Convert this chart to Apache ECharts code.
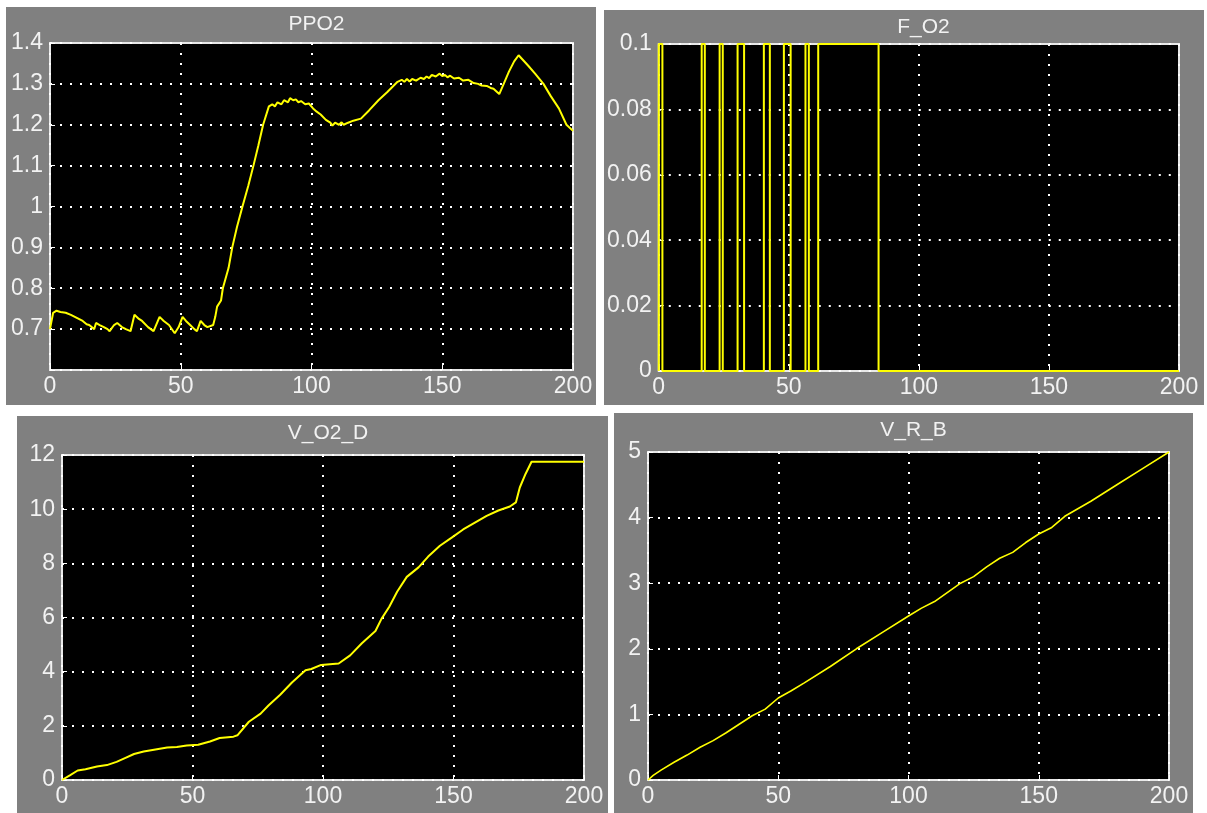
<!DOCTYPE html>
<html>
<head>
<meta charset="utf-8">
<script src="https://cdn.jsdelivr.net/npm/echarts@6/dist/echarts.min.js"></script>
<style>
  html, body { margin: 0; padding: 0; background: #ffffff; }
  body { width: 1207px; height: 813px; position: relative; overflow: hidden; }
  .panel { position: absolute; background: #808080; }
</style>
</head>
<body>
<div id="p1" class="panel" style="left:6px;top:7px;width:590px;height:398px;"></div>
<div id="p2" class="panel" style="left:604px;top:10px;width:600px;height:395px;"></div>
<div id="p3" class="panel" style="left:17px;top:416px;width:591px;height:397px;"></div>
<div id="p4" class="panel" style="left:614px;top:413px;width:579px;height:400px;"></div>
<script>
// ---------- DATA ----------
const titles = ['PPO2', 'F_O2', 'V_O2_D', 'V_R_B'];
const xTicks = [0, 50, 100, 150, 200];

// PPO2
const ppo2T = [0, 1.2, 2.5, 4, 6, 8, 9.5, 11, 12.5, 14, 15, 16.9, 17.6, 19, 20.6, 22, 22.8, 24.5, 25.7, 27.5, 29, 30.8, 32.3, 34, 35.2, 37.5, 39.6, 41.9, 43.5, 45.5, 47.7, 49.2, 50.7, 52, 53.6, 55.2, 56.2, 57.6, 59, 60.2, 62.4, 63.2, 63.9, 65.4, 66.1, 68.3, 69.7, 71.5, 73.6, 75.8, 77.8, 79.7, 81.5, 83.7, 85, 86, 87, 88.5, 89.5, 91, 91.8, 93, 94, 95, 96, 97.6, 99, 100.6, 102, 103.5, 105.5, 107.2, 108, 109, 110.5, 111.5, 112.3, 114, 116, 118.9, 122, 125.6, 129, 132.9, 134.5, 135.5, 136.5, 137.5, 138.5, 140, 141.7, 143, 144, 145, 146, 147.5, 149, 150, 151, 152, 153, 154.5, 156.4, 158, 160, 162, 163.7, 165, 167, 168.5, 169.6, 171.8, 173.5, 175.5, 177.5, 179.2, 182.8, 185.5, 188.7, 191.5, 194.6, 197.5, 200];
const ppo2V = [0.70, 0.74, 0.745, 0.742, 0.74, 0.735, 0.73, 0.725, 0.72, 0.712, 0.71, 0.70, 0.715, 0.71, 0.705, 0.70, 0.695, 0.71, 0.715, 0.705, 0.70, 0.695, 0.735, 0.725, 0.72, 0.705, 0.695, 0.73, 0.72, 0.71, 0.69, 0.705, 0.73, 0.72, 0.71, 0.70, 0.695, 0.72, 0.71, 0.705, 0.71, 0.73, 0.755, 0.77, 0.80, 0.85, 0.90, 0.95, 1.00, 1.05, 1.10, 1.15, 1.20, 1.245, 1.25, 1.245, 1.255, 1.25, 1.26, 1.255, 1.265, 1.26, 1.262, 1.255, 1.258, 1.25, 1.252, 1.24, 1.232, 1.225, 1.212, 1.205, 1.198, 1.205, 1.2, 1.206, 1.2, 1.205, 1.21, 1.215, 1.235, 1.26, 1.28, 1.305, 1.31, 1.305, 1.312, 1.306, 1.312, 1.308, 1.315, 1.312, 1.318, 1.314, 1.322, 1.318, 1.325, 1.319, 1.322, 1.316, 1.32, 1.313, 1.315, 1.308, 1.31, 1.302, 1.30, 1.296, 1.295, 1.29, 1.288, 1.275, 1.30, 1.33, 1.355, 1.37, 1.345, 1.325, 1.30, 1.27, 1.24, 1.20, 1.185];

// F_O2 pulses (value high = 0.1 between start and end)
const fo2Start = [0, 16.5, 23.4, 30.3, 40.4, 48.1, 56.4, 61.3];
const fo2End   = [1.4, 17.7, 24.6, 32.8, 42.7, 50.7, 57.7, 84.5];
const fo2High = 0.1;

// V_O2_D
const vo2dT = [0, 3, 6, 9, 13.4, 17.2, 20.9, 23.9, 27.6, 31.3, 35.8, 40.3, 44, 47.8, 52.2, 56.7, 60.4, 65.7, 67.2, 71.6, 76.1, 79.1, 83.6, 88.1, 93.3, 95.5, 99.3, 106, 110.4, 114.9, 120.1, 122.4, 125.4, 128.4, 132.1, 136.6, 140.3, 144.8, 149.3, 153.7, 158.2, 162.7, 167.2, 171.6, 173.9, 175.4, 177.6, 179.9, 200];
const vo2dV = [0, 0.17, 0.35, 0.4, 0.5, 0.55, 0.67, 0.8, 0.96, 1.05, 1.13, 1.2, 1.22, 1.27, 1.3, 1.42, 1.55, 1.6, 1.65, 2.15, 2.45, 2.75, 3.15, 3.6, 4.05, 4.1, 4.25, 4.3, 4.6, 5.05, 5.5, 5.95, 6.4, 6.95, 7.5, 7.85, 8.25, 8.65, 8.95, 9.25, 9.5, 9.75, 9.95, 10.1, 10.25, 10.8, 11.3, 11.75, 11.75];

// V_R_B
const vrbT = [0, 2, 5, 10, 15, 20, 25, 30, 35, 40, 45, 50, 55, 60, 70, 80, 90, 100, 105, 110, 120, 125, 130, 135, 140, 145, 150, 155, 160, 170, 180, 190, 200];
const vrbV = [0, 0.07, 0.15, 0.27, 0.38, 0.5, 0.6, 0.72, 0.85, 0.98, 1.08, 1.25, 1.36, 1.48, 1.73, 2.0, 2.25, 2.5, 2.62, 2.72, 3.0, 3.1, 3.25, 3.38, 3.47, 3.62, 3.75, 3.85, 4.02, 4.25, 4.5, 4.75, 5.0];

// y-axis settings
const yMin = [0.6, 0, 0, 0];
const yMax = [1.4, 0.1, 12, 5];
const yStep = [0.1, 0.02, 2, 1];

// ---------- BUILD ----------
function pairs(t, v) { return t.map((x, i) => [x, v[i]]); }
function fo2Data() {
  const d = [];
  for (let i = 0; i < fo2Start.length; i++) {
    d.push([fo2Start[i], 0]);
    d.push([fo2Start[i], fo2High]);
    d.push([fo2End[i], fo2High]);
    d.push([fo2End[i], 0]);
  }
  d.push([200, 0]);
  return d;
}
const seriesData = [pairs(ppo2T, ppo2V), fo2Data(), pairs(vo2dT, vo2dV), pairs(vrbT, vrbV)];

const grids = [
  {left: 44, top: 36, width: 523, height: 327},
  {left: 54, top: 34, width: 521, height: 327},
  {left: 45, top: 39, width: 522, height: 325},
  {left: 34, top: 39, width: 521, height: 328}
];
const lineWidths = [2, 2, 2, 1.6];

const FONT = 'Liberation Sans, Arial, sans-serif';
const TXT = '#f2f2f2';
const dotted = {color: '#ffffff', width: 2, type: [2, 8]};

function fmt(i) {
  return function (v) {
    if (i === 0 && v < 0.65) return '';
    const r = Math.round(v * 1000) / 1000;
    return String(r);
  };
}

['p1', 'p2', 'p3', 'p4'].forEach((id, i) => {
  const chart = echarts.init(document.getElementById(id), null, {renderer: 'canvas'});
  const g = grids[i];
  chart.setOption({
    animation: false,
    backgroundColor: '#808080',
    title: {
      text: titles[i],
      left: g.left + g.width / 2,
      textAlign: 'center',
      top: 2,
      textStyle: {color: TXT, fontFamily: FONT, fontSize: 21, fontWeight: 'normal'}
    },
    grid: {
      left: g.left, top: g.top, width: g.width, height: g.height,
      show: true, backgroundColor: '#000000', borderColor: '#e8e8e8', borderWidth: 2
    },
    xAxis: {
      type: 'value', min: 0, max: 200, interval: 50,
      axisLine: {show: false},
      axisTick: {show: true, inside: true, length: 5, lineStyle: {color: '#ffffff', width: 1}},
      axisLabel: {color: TXT, fontFamily: FONT, fontSize: 23, margin: 5,
        formatter: v => xTicks.indexOf(v) >= 0 ? String(v) : ''},
      splitLine: {show: true, lineStyle: dotted}
    },
    yAxis: {
      type: 'value', min: yMin[i], max: yMax[i], interval: yStep[i],
      axisLine: {show: false},
      axisTick: {show: true, inside: true, length: 5, lineStyle: {color: '#ffffff', width: 1}},
      axisLabel: {color: TXT, fontFamily: FONT, fontSize: 23, margin: 7, formatter: fmt(i)},
      splitLine: {show: true, lineStyle: dotted}
    },
    series: [{
      type: 'line',
      data: seriesData[i],
      showSymbol: false,
      symbol: 'none',
      clip: false,
      lineStyle: {color: '#ffff00', width: lineWidths[i]},
      z: 5
    }]
  });
});
</script>
</body>
</html>
